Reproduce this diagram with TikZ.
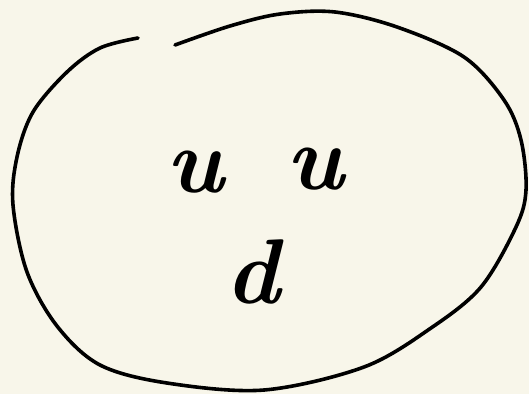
\documentclass[tikz,border=0pt]{standalone}
\definecolor{paper}{HTML}{F8F6EA}
\tikzset{
  stroke/.style={line width=3.6pt, line cap=round, line join=round, black},
  letter/.style={font=\fontsize{92}{92}\selectfont\bfseries\itshape, inner sep=0pt}
}
\begin{document}
\begin{tikzpicture}[x=1pt,y=-1pt]
\fill[paper] (0,0) rectangle (529,394);
\useasboundingbox (0,0) rectangle (529,394);
\draw[stroke] plot[smooth, tension=0.55] coordinates {
  (175,45) (230,26) (280,14) (335,12) (397,27) (464,57) (504,100) (521,140) (526,190)
  (516,227) (481,287) (431,328) (364,367) (264,390) (167,383) (100,365)
  (57,326) (27,272) (13,205) (17,157) (33,112) (67,72) (100,48) (138,38)};
\node[letter] (u1) at (195,172) {u};
\node[letter] (u2) at (315,169) {u};
\node[letter] (d) at (253,272) {d};
\end{tikzpicture}
\end{document}
